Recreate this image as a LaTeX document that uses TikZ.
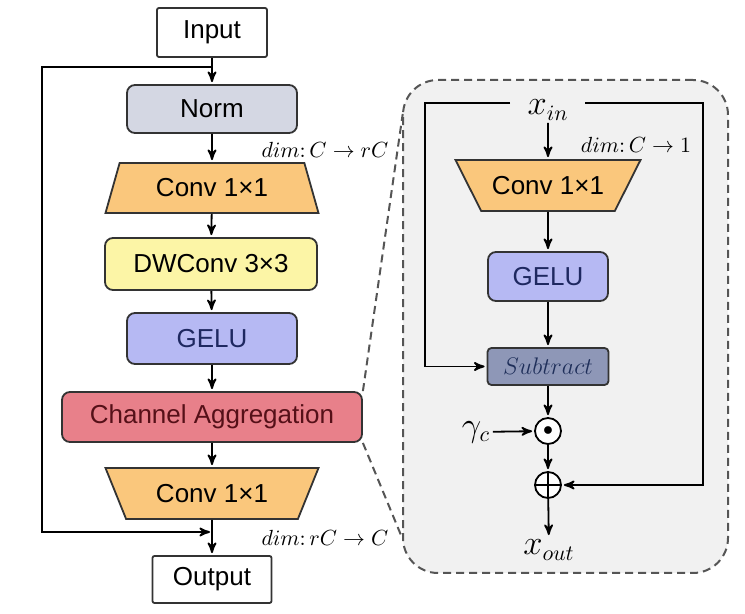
\documentclass[tikz,border=0pt]{standalone}
\usepackage{fontspec}
\setmainfont{Liberation Sans}
\usepackage{tikz}
\usetikzlibrary{arrows,shapes,positioning}
\usepackage{xcolor}

\definecolor{normgray}{HTML}{D4D7E3}
\definecolor{convorange}{HTML}{FAC77C}
\definecolor{dwyellow}{HTML}{FCF5A6}
\definecolor{gelublue}{HTML}{B6B9F3}
\definecolor{geluink}{HTML}{1E2860}
\definecolor{aggred}{HTML}{E8808A}
\definecolor{aggink}{HTML}{551018}
\definecolor{subslate}{HTML}{8E97B7}
\definecolor{subink}{HTML}{1F2F5A}
\definecolor{panelgray}{HTML}{F1F1F1}
\definecolor{dashgray}{HTML}{555555}

\begin{document}
\begin{tikzpicture}[->,>=stealth',shorten >=1pt,x=0.5pt,y=-0.5pt,
                    line width=0.9pt]
  \tikzstyle{block}=[rectangle,rounded corners=4pt,draw=black!80,line width=0.9pt,font=\fontsize{13}{15}\selectfont]
  \tikzstyle{io}=[block,rounded corners=1pt,fill=white]
  \tikzstyle{normbox}=[block,fill=normgray,minimum width=85pt,minimum height=24pt]
  \tikzstyle{conv}=[trapezium,trapezium stretches body,draw=black!80,line width=0.9pt,fill=convorange,inner xsep=0pt,font=\fontsize{13}{15}\selectfont]
  \tikzstyle{dwbox}=[block,fill=dwyellow,minimum width=106pt,minimum height=26pt]
  \tikzstyle{gelubox}=[block,fill=gelublue,text=geluink]
  \tikzstyle{aggbox}=[block,fill=aggred,text=aggink,minimum width=150pt,minimum height=25pt]
  \tikzstyle{subbox}=[block,rounded corners=2pt,fill=subslate,text=subink,minimum width=60.5pt,minimum height=18.5pt,inner sep=1pt,font=\fontsize{12}{14}\selectfont]
  \tikzstyle{op}=[circle,draw=black,fill=white,line width=0.9pt,minimum size=13pt,inner sep=0pt]
  \tikzstyle{dimlabel}=[font=\fontsize{11}{13}\selectfont]
  \tikzstyle{var}=[font=\fontsize{16}{18}\selectfont,inner sep=1pt]
  \tikzstyle{zoomline}=[-,dashed,dash pattern=on 4pt off 2.5pt,draw=dashgray,line width=1pt]

  \useasboundingbox (0,0) rectangle (745,614);

  % detail panel
  \node[draw=dashgray,fill=panelgray,dash pattern=on 4pt off 2.5pt,line width=1pt,rounded corners=17.5pt,
        minimum width=162.5pt,minimum height=246.5pt] (panel) at (565.5,326.5) {};

  % main block
  \node[io,minimum width=55pt,minimum height=24.5pt] (input) at (212,32.5) {Input};
  \node[normbox] (norm) at (212,109) {Norm};
  \node[conv,trapezium left angle=66,trapezium right angle=66,minimum width=106.5pt,minimum height=25pt] (conva) at (212,188) {Conv 1\texttimes1};
  \node[dwbox] (dwconv) at (211,264) {DWConv 3\texttimes3};
  \node[gelubox,minimum width=85pt,minimum height=25.5pt] (gelu) at (212,338.5) {GELU};
  \node[aggbox] (chagg) at (212,417) {Channel Aggregation};
  \node[conv,shape border rotate=180,trapezium left angle=57,trapezium right angle=57,minimum width=106.5pt,minimum height=25.5pt] (convb) at (212,493.5) {Conv 1\texttimes1};
  \node[io,minimum width=59.5pt,minimum height=23.5pt] (output) at (212,579.5) {Output};

  \node[dimlabel] (dima) at (325,150) {$dim\colon C \rightarrow rC$};
  \node[dimlabel] (dimb) at (325,538) {$dim\colon rC \rightarrow C$};

  \coordinate (skipin) at (212,67);
  \coordinate (skipw) at (42,67);
  \coordinate (skipout) at (212,532);

  \path (input) edge (norm)
        (norm) edge (conva)
        (conva) edge (dwconv)
        (dwconv) edge (gelu)
        (gelu) edge (chagg)
        (chagg) edge (convb)
        (convb) edge (output);
  \draw (skipin) -- (skipw) |- (skipout);

  % zoom lines
  \coordinate (pantop) at (403,112);
  \coordinate (panbot) at (403,540);
  \draw[zoomline] (chagg.north east) -- (pantop);
  \draw[zoomline] (chagg.south east) -- (panbot);

  % channel aggregation detail
  \node[var] (xin) at (548,110) {$x_{in}$};
  \node[dimlabel] (dimc) at (636,145) {$dim\colon C \rightarrow 1$};
  \node[conv,shape border rotate=180,trapezium left angle=51,trapezium right angle=51,inner xsep=-3pt,minimum width=92.5pt,minimum height=25.5pt] (convc) at (548,185.5) {Conv 1\texttimes1};
  \node[gelubox,minimum width=60pt,minimum height=24.5pt] (gelub) at (548,276.5) {GELU};
  \node[subbox] (sub) at (548,366.5) {$Subtract$};
  \node[op,font=\fontsize{10}{10}\selectfont] (dot) at (548,431) {$\bullet$};
  \node[op] (plus) at (548,485) {};
  \node[var] (gam) at (476,432) {$\gamma_c$};
  \node[var] (xout) at (549,550) {$x_{out}$};

  \coordinate (inl) at (510,103);
  \coordinate (inr) at (585,103);
  \coordinate (loopl) at (425,103);
  \coordinate (loopr) at (703,103);

  \draw[-,shorten >=0pt] (plus.north) -- (plus.south) (plus.west) -- (plus.east);

  \path (xin) edge (convc)
        (convc) edge (gelub)
        (gelub) edge (sub)
        (sub) edge (dot)
        (dot) edge (plus)
        (gam) edge (dot)
        (plus) edge (xout);
  \draw (inl) -- (loopl) |- (sub.west);
  \draw (inr) -- (loopr) |- (plus.east);
\end{tikzpicture}
\end{document}
